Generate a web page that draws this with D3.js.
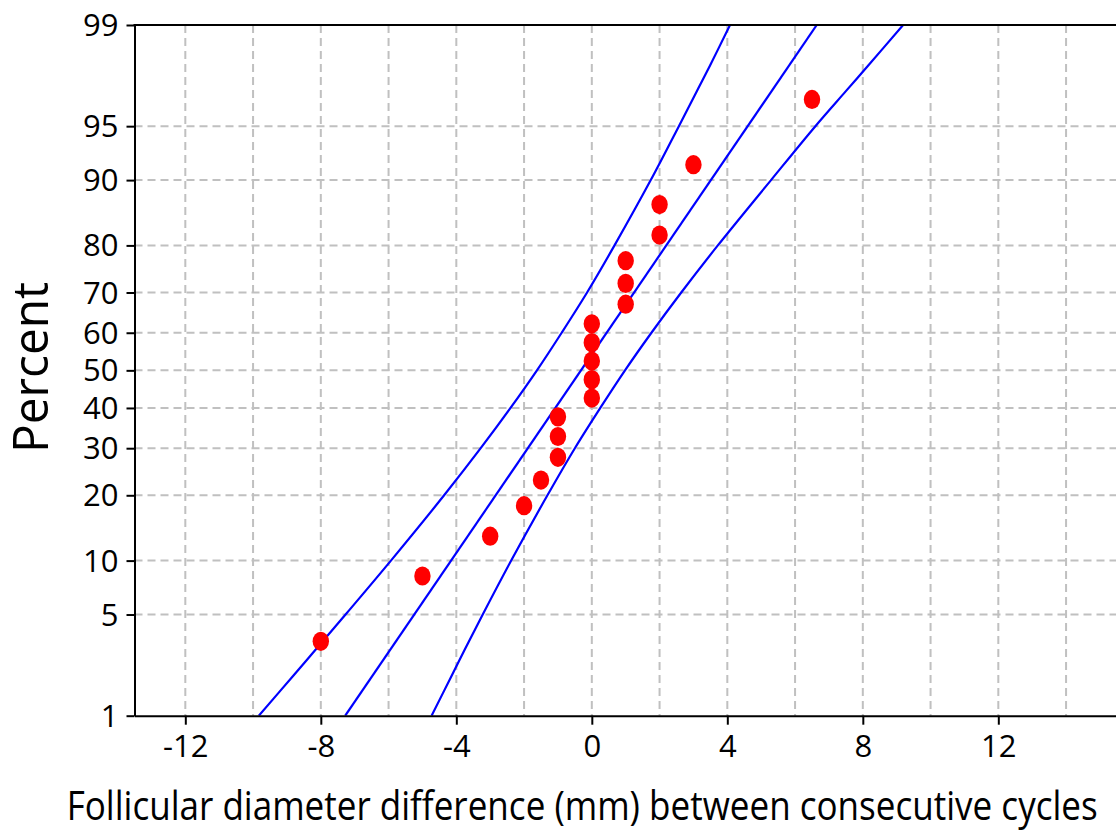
<!DOCTYPE html>
<html lang="en">
<head>
<meta charset="utf-8">
<title>Normal probability plot</title>
<script src="https://d3js.org/d3.v7.min.js"></script>
<style>
  body { margin: 0; background: #fff; }
  svg { display: block; font-family: "Open Sans", "DejaVu Sans", sans-serif; }
</style>
</head>
<body>
<div id="chart"></div>
<script>

// data
var diffs = [-8, -5, -3, -2, -1.5, -1, -1, -1, 0, 0, 0, 0, 0, 1, 1, 1, 2, 2, 3, 6.5]
var pcts = [3.4, 8.3, 13.2, 18.1, 23.0, 27.9, 32.8, 37.7, 42.6, 47.5, 52.5, 57.4, 62.3, 67.2, 72.1, 77.0, 81.9, 86.8, 91.7, 96.6]

// fitted line (two ends) and the confidence band curves
var fitPct = [1, 99]
var fitX = [-7.28, 6.64]
var bandPct = [1, 2, 3, 5, 10, 20, 30, 40, 50, 60, 70, 80, 90, 95, 97, 98, 99]
var lowerX = [-9.83, -8.80, -8.15, -7.27, -5.93, -4.36, -3.28, -2.40, -1.62, -0.89, -0.14, 0.67, 1.74, 2.57, 3.10, 3.49, 4.08]
var upperX = [-4.73, -4.13, -3.75, -3.22, -2.38, -1.31, -0.50, 0.25, 0.98, 1.76, 2.64, 3.72, 5.29, 6.60, 7.50, 8.16, 9.19]

// axes
var xTicks = [-12, -8, -4, 0, 4, 8, 12]
var xGrid = [-12, -10, -8, -6, -4, -2, 0, 2, 4, 6, 8, 10, 12, 14]
var yTicks = [1, 5, 10, 20, 30, 40, 50, 60, 70, 80, 90, 95, 99]

var width = 1116, height = 832
var plotLeft = 134.5, plotTop = 25, plotBottom = 715.7

// inverse normal cdf (Acklam) for the probability axis
function probit(p) {
  var a = [-39.69683028665376, 220.9460984245205, -275.9285104469687, 138.3577518672690, -30.66479806614716, 2.506628277459239]
  var b = [-54.47609879822406, 161.5858368580409, -155.6989798598866, 66.80131188771972, -13.28068155288572]
  var c = [-0.007784894002430293, -0.3223964580411365, -2.400758277161838, -2.549732539343734, 4.374664141464968, 2.938163982698783]
  var d = [0.007784695709041462, 0.3224671290700398, 2.445134137142996, 3.754408661907416]
  var pl = 0.02425, q, r
  if (p < pl) {
    q = Math.sqrt(-2 * Math.log(p))
    return (((((c[0]*q+c[1])*q+c[2])*q+c[3])*q+c[4])*q+c[5]) / ((((d[0]*q+d[1])*q+d[2])*q+d[3])*q+1)
  }
  if (p > 1 - pl) {
    q = Math.sqrt(-2 * Math.log(1 - p))
    return -(((((c[0]*q+c[1])*q+c[2])*q+c[3])*q+c[4])*q+c[5]) / ((((d[0]*q+d[1])*q+d[2])*q+d[3])*q+1)
  }
  q = p - 0.5
  r = q * q
  return (((((a[0]*r+a[1])*r+a[2])*r+a[3])*r+a[4])*r+a[5])*q / (((((b[0]*r+b[1])*r+b[2])*r+b[3])*r+b[4])*r+1)
}

var x = d3.scaleLinear().domain([-13.5, 15.5]).range([plotLeft, plotLeft + 29 * 33.875])
var yz = d3.scaleLinear().domain([probit(0.01), probit(0.99)]).range([plotBottom, plotTop])
var y = function(p) { return yz(probit(p / 100)) }

var svg = d3.select("#chart").append("svg")
  .attr("width", width)
  .attr("height", height)

// grid
var grid = svg.append("g")
  .attr("stroke", "#c0c0c0")
  .attr("stroke-width", 2)
  .attr("stroke-dasharray", "8,5")
grid.selectAll(".vg").data(xGrid).enter().append("line")
  .attr("x1", function(d) { return x(d) }).attr("x2", function(d) { return x(d) })
  .attr("y1", plotTop).attr("y2", plotBottom)
grid.selectAll(".hg").data(yTicks.slice(1, -1)).enter().append("line")
  .attr("x1", plotLeft).attr("x2", width)
  .attr("y1", function(d) { return y(d) }).attr("y2", function(d) { return y(d) })

// lines, clipped to the plot area
svg.append("clipPath").attr("id", "plot")
  .append("rect").attr("x", plotLeft).attr("y", plotTop)
  .attr("width", width - plotLeft).attr("height", plotBottom - plotTop)

var line = d3.line()
  .x(function(d) { return x(d[0]) })
  .y(function(d) { return y(d[1]) })
  .curve(d3.curveCatmullRom.alpha(0.5))

var lines = svg.append("g").attr("clip-path", "url(#plot)")
  .attr("fill", "none").attr("stroke", "#0000ff").attr("stroke-width", 2.2)
lines.append("path").attr("d", line(d3.zip(lowerX, bandPct)))
lines.append("path").attr("d", line(d3.zip(fitX, fitPct)))
lines.append("path").attr("d", line(d3.zip(upperX, bandPct)))

// points
svg.append("g").selectAll("ellipse")
  .data(d3.zip(diffs, pcts))
  .enter().append("ellipse")
    .attr("cx", function(d) { return x(d[0]) })
    .attr("cy", function(d) { return y(d[1]) })
    .attr("rx", 8.2)
    .attr("ry", 9.6)
    .attr("fill", "#ff0000")

// axes
var yAxis = svg.append("g")
  .attr("transform", "translate(" + plotLeft + ",0)")
  .call(d3.axisLeft(yz)
    .tickValues(yTicks.map(function(p) { return probit(p / 100) }))
    .tickFormat(function(d, i) { return yTicks[i] })
    .tickSize(8).tickSizeOuter(0).tickPadding(8))

var xAxis = svg.append("g")
  .attr("transform", "translate(0," + plotBottom + ")")
  .call(d3.axisBottom(x).tickValues(xTicks)
    .tickFormat(function(d) { return d < 0 ? "-" + Math.abs(d) : d })
    .tickSize(9).tickSizeOuter(0).tickPadding(10))

svg.selectAll(".domain, .tick line").attr("stroke", "#000").attr("stroke-width", 2)
svg.selectAll(".tick text").attr("fill", "#000").style("font-size", "31px")
  .style("font-family", "'Open Sans', 'DejaVu Sans', sans-serif")
yAxis.selectAll(".tick text").attr("dy", "0.34em")
xAxis.selectAll(".tick text").attr("dy", "0.72em")

// top frame line
svg.append("line")
  .attr("x1", plotLeft - 1).attr("x2", width)
  .attr("y1", plotTop).attr("y2", plotTop)
  .attr("stroke", "#000").attr("stroke-width", 2)

// titles
svg.append("text")
  .attr("x", 66.7).attr("y", 820)
  .attr("textLength", 1031).attr("lengthAdjust", "spacingAndGlyphs")
  .style("font-size", "41px")
  .text("Follicular diameter difference (mm) between consecutive cycles")

svg.append("text")
  .attr("transform", "translate(48,367.5) rotate(-90)")
  .attr("text-anchor", "middle")
  .attr("textLength", 171).attr("lengthAdjust", "spacingAndGlyphs")
  .style("font-size", "50px")
  .text("Percent")

</script>
</body>
</html>
